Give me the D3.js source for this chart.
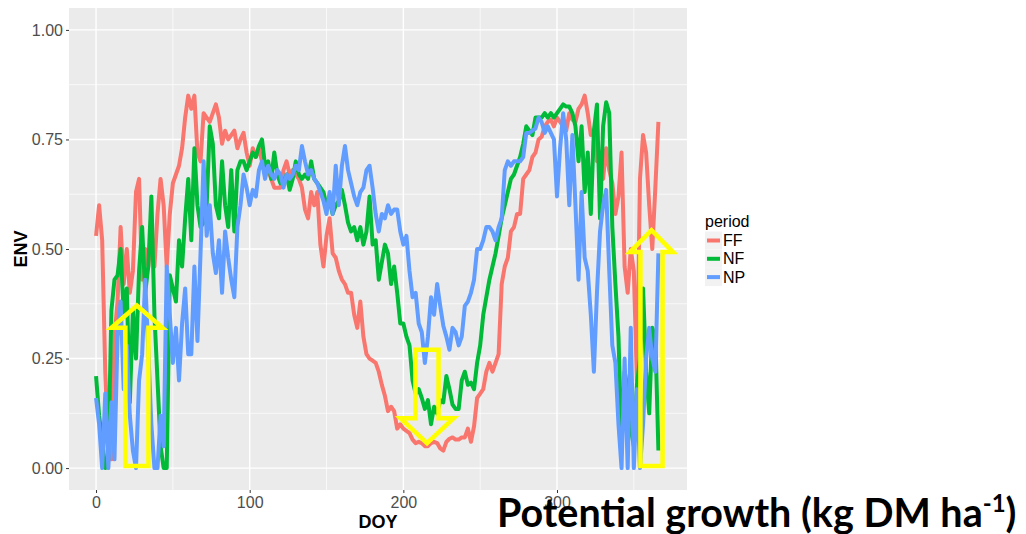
<!DOCTYPE html>
<html>
<head>
<meta charset="utf-8">
<script src="https://cdnjs.cloudflare.com/ajax/libs/d3/7.8.5/d3.min.js"></script>
<style>
    body{ margin:0; background:#fff; }
    svg{ display:block; font-family:'Liberation Sans', Arial, sans-serif; }
</style>
</head>
<body>
<svg id="chart" width="1026" height="534"></svg>
<script>
// day of year, every second day
var days = d3.range(0, 367, 2);

var ff = [
    0.53,0.60,0.52,0.22,0.05,0.02,0.30,0.38,0.55,0.42,
    0.50,0.40,0.45,0.63,0.66,0.43,0.50,0.46,0.53,0.46,
    0.58,0.66,0.60,0.46,0.58,0.65,0.67,0.69,0.73,0.80,
    0.85,0.82,0.85,0.72,0.70,0.81,0.80,0.79,0.81,0.83,
    0.80,0.74,0.77,0.75,0.76,0.77,0.73,0.75,0.765,0.72,
    0.69,0.73,0.71,0.73,0.70,0.67,0.68,0.66,0.64,0.64,
    0.64,0.68,0.70,0.67,0.68,0.67,0.66,0.64,0.59,0.57,
    0.63,0.60,0.63,0.51,0.46,0.53,0.57,0.49,0.48,0.45,
    0.43,0.42,0.40,0.40,0.35,0.32,0.38,0.30,0.26,0.25,
    0.245,0.24,0.22,0.19,0.165,0.13,0.14,0.13,0.09,0.10,
    0.09,0.085,0.08,0.065,0.057,0.06,0.057,0.05,0.05,0.057,
    0.06,0.057,0.045,0.04,0.06,0.067,0.07,0.065,0.065,0.07,
    0.07,0.09,0.06,0.095,0.16,0.17,0.18,0.22,0.24,0.22,
    0.24,0.26,0.42,0.46,0.48,0.54,0.55,0.58,0.58,0.66,
    0.67,0.68,0.71,0.72,0.75,0.756,0.78,0.79,0.795,0.78,
    0.80,0.79,0.78,0.77,0.81,0.795,0.79,0.82,0.83,0.85,
    0.81,0.76,0.77,0.70,0.72,0.66,0.73,0.68,0.65,0.58,
    0.62,0.72,0.46,0.40,0.50,0.45,0.20,0.66,0.76,0.72,
    0.60,0.50,0.64,0.79
];

var nf = [
    0.21,0.12,0.06,0.00,0.02,0.36,0.43,0.44,0.50,0.35,
    0.41,0.15,0.36,0.25,0.45,0.55,0.40,0.46,0.62,0.35,
    0.20,0.05,0.00,0.00,0.44,0.41,0.38,0.52,0.46,0.57,
    0.66,0.52,0.73,0.60,0.55,0.56,0.60,0.78,0.74,0.60,
    0.57,0.70,0.60,0.55,0.68,0.54,0.68,0.70,0.70,0.68,
    0.70,0.72,0.71,0.735,0.75,0.69,0.70,0.66,0.72,0.67,
    0.65,0.65,0.67,0.635,0.66,0.70,0.67,0.66,0.67,0.66,
    0.70,0.66,0.65,0.64,0.63,0.60,0.61,0.58,0.60,0.61,
    0.635,0.60,0.56,0.54,0.55,0.52,0.55,0.51,0.54,0.62,
    0.51,0.52,0.43,0.47,0.51,0.49,0.42,0.46,0.40,0.33,
    0.33,0.30,0.28,0.20,0.17,0.18,0.16,0.135,0.155,0.10,
    0.14,0.125,0.155,0.15,0.21,0.18,0.145,0.135,0.135,0.20,
    0.22,0.19,0.195,0.18,0.24,0.28,0.35,0.39,0.43,0.46,
    0.49,0.53,0.57,0.60,0.63,0.66,0.67,0.69,0.71,0.74,
    0.78,0.77,0.76,0.80,0.80,0.80,0.81,0.80,0.81,0.80,
    0.81,0.82,0.83,0.825,0.825,0.81,0.78,0.70,0.78,0.63,
    0.72,0.58,0.77,0.83,0.57,0.78,0.835,0.81,0.55,0.42,
    0.30,0.05,0.22,0.18,0.09,0.05,0.19,0.25,0.41,0.22,
    0.125,0.32,0.30,0.04
];

var np = [
    0.16,0.10,0.00,0.17,0.00,0.15,0.02,0.30,0.38,0.18,
    0.28,0.12,0.04,0.00,0.20,0.26,0.43,0.27,0.10,0.00,
    0.00,0.12,0.05,0.46,0.35,0.24,0.32,0.20,0.33,0.41,
    0.26,0.26,0.46,0.29,0.49,0.70,0.53,0.60,0.49,0.445,
    0.52,0.40,0.54,0.48,0.43,0.39,0.55,0.60,0.67,0.64,
    0.60,0.635,0.62,0.68,0.70,0.66,0.69,0.67,0.66,0.68,
    0.67,0.64,0.67,0.66,0.67,0.69,0.68,0.735,0.70,0.67,
    0.68,0.66,0.65,0.63,0.61,0.58,0.63,0.58,0.69,0.60,
    0.69,0.735,0.68,0.65,0.62,0.60,0.63,0.64,0.68,0.69,
    0.64,0.58,0.54,0.58,0.57,0.60,0.58,0.59,0.59,0.54,
    0.51,0.53,0.45,0.39,0.40,0.33,0.31,0.24,0.30,0.39,
    0.35,0.42,0.37,0.325,0.30,0.27,0.32,0.31,0.28,0.30,
    0.37,0.38,0.40,0.43,0.50,0.50,0.52,0.55,0.55,0.54,
    0.52,0.55,0.57,0.68,0.70,0.69,0.70,0.70,0.70,0.71,
    0.765,0.765,0.77,0.775,0.80,0.79,0.765,0.78,0.765,0.75,
    0.62,0.73,0.81,0.75,0.60,0.76,0.60,0.43,0.63,0.48,
    0.45,0.35,0.22,0.40,0.54,0.60,0.635,0.45,0.28,0.24,
    0.10,0.00,0.25,0.00,0.32,0.00,0.18,0.00,0.10,0.25,
    0.32,0.25,0.22,0.49
];

var periods = ["FF", "NF", "NP"];
var colors = ["#F8766D", "#00BA38", "#619CFF"];
var xTicks = [0, 100, 200, 300];
var yTicks = [0, 0.25, 0.5, 0.75, 1];
var yTickLabels = ["0.00", "0.25", "0.50", "0.75", "1.00"];

// yellow arrows, in data units (day, ENV)
var arrowDay = [26.6, 215.4, 361.5];
var arrowTail = [0.005, 0.27, 0.005];
var arrowHeadBase = [0.32, 0.114, 0.493];
var arrowTip = [0.371, 0.057, 0.543];
var arrowShaft = [7.5, 7.5, 7.2];
var arrowHead = [16.6, 17.3, 14];

drawChart();

function drawChart(){
    var svg = d3.select("#chart");
    var pL = 69, pR = 687, pT = 8, pB = 490;

    var x = d3.scaleLinear().domain([-17.6, 384.6]).range([pL, pR]);
    var y = d3.scaleLinear().domain([-0.05, 1.05]).range([pB, pT]);

    // panel
    svg.append("rect")
        .attr("x", pL).attr("y", pT)
        .attr("width", pR - pL).attr("height", pB - pT)
        .attr("fill", "#EBEBEB");

    var grid = svg.append("g");
    grid.selectAll(".minx").data([50, 150, 250, 350]).enter().append("line")
        .attr("x1", d => x(d)).attr("x2", d => x(d))
        .attr("y1", pT).attr("y2", pB)
        .attr("stroke", "#fff").attr("stroke-width", 0.7);
    grid.selectAll(".miny").data([0.125, 0.375, 0.625, 0.875]).enter().append("line")
        .attr("x1", pL).attr("x2", pR)
        .attr("y1", d => y(d)).attr("y2", d => y(d))
        .attr("stroke", "#fff").attr("stroke-width", 0.7);
    grid.selectAll(".majx").data(xTicks).enter().append("line")
        .attr("x1", d => x(d)).attr("x2", d => x(d))
        .attr("y1", pT).attr("y2", pB)
        .attr("stroke", "#fff").attr("stroke-width", 1.4);
    grid.selectAll(".majy").data(yTicks).enter().append("line")
        .attr("x1", pL).attr("x2", pR)
        .attr("y1", d => y(d)).attr("y2", d => y(d))
        .attr("stroke", "#fff").attr("stroke-width", 1.4);

    // axes
    var yAxis = d3.axisLeft(y).tickValues(yTicks)
        .tickFormat((d, i) => yTickLabels[i]).tickSize(3).tickPadding(3);
    var xAxis = d3.axisBottom(x).tickValues(xTicks).tickSize(3).tickPadding(4);

    svg.append("g").attr("transform", `translate(${pL},0)`).call(yAxis)
        .call(g => g.select(".domain").remove());
    svg.append("g").attr("transform", `translate(0,${pB})`).call(xAxis)
        .call(g => g.select(".domain").remove());

    svg.selectAll(".tick line").attr("stroke", "#333");
    svg.selectAll(".tick text")
        .attr("fill", "#4D4D4D")
        .style("font-size", "16px")
        .style("font-family", "'Liberation Sans', Arial, sans-serif");

    // series
    var series = [ff, nf, np];
    var line = d3.line()
        .x((d, i) => x(days[i]))
        .y(d => y(d));

    series.forEach(function(vals, k){
        svg.append("path")
            .attr("d", line(vals))
            .attr("fill", "none")
            .attr("stroke", colors[k])
            .attr("stroke-width", 4)
            .attr("stroke-linejoin", "round")
            .attr("stroke-linecap", "butt");
    });

    // yellow arrows
    var arrowLine = d3.line().x(d => x(d[0])).y(d => y(d[1]));
    arrowDay.forEach(function(cx, i){
        var pts = [
            [cx - arrowShaft[i], arrowTail[i]],
            [cx - arrowShaft[i], arrowHeadBase[i]],
            [cx - arrowHead[i], arrowHeadBase[i]],
            [cx, arrowTip[i]],
            [cx + arrowHead[i], arrowHeadBase[i]],
            [cx + arrowShaft[i], arrowHeadBase[i]],
            [cx + arrowShaft[i], arrowTail[i]]
        ];
        svg.append("path")
            .attr("d", arrowLine(pts) + "Z")
            .attr("fill", "none")
            .attr("stroke", "#FFFF00")
            .attr("stroke-width", 4.5)
            .attr("stroke-linejoin", "miter");
    });

    // axis titles
    svg.append("text")
        .attr("x", (pL + pR) / 2).attr("y", 528)
        .attr("text-anchor", "middle")
        .style("font-size", "18px").style("font-weight", "bold")
        .text("DOY");
    svg.append("text")
        .attr("transform", `translate(27,${(pT + pB) / 2}) rotate(-90)`)
        .attr("text-anchor", "middle")
        .style("font-size", "18px").style("font-weight", "bold")
        .text("ENV");

    // legend
    var legend = svg.append("g").attr("transform", "translate(705,0)");
    legend.append("text").attr("x", 0).attr("y", 227)
        .style("font-size", "16px").attr("fill", "#000").text("period");
    periods.forEach(function(p, i){
        var cy = 240.5 + i * 18.3;
        legend.append("rect")
            .attr("x", 0).attr("y", cy - 9)
            .attr("width", 17).attr("height", 18)
            .attr("fill", "#F2F2F2");
        legend.append("line")
            .attr("x1", 2).attr("x2", 15)
            .attr("y1", cy).attr("y2", cy)
            .attr("stroke", colors[i]).attr("stroke-width", 4);
        legend.append("text")
            .attr("x", 18).attr("y", cy + 5.5)
            .style("font-size", "16px").attr("fill", "#000")
            .text(p);
    });

    // slide caption
    var cap = svg.append("text")
        .attr("x", 497).attr("y", 527)
        .style("font-family", "Lato, 'Open Sans', sans-serif")
        .style("font-weight", "bold")
        .style("font-size", "39.5px")
        .attr("fill", "#000");
    cap.append("tspan").text("Potential growth (kg DM ha");
    cap.append("tspan").attr("dy", -15).style("font-size", "24px").text("-1");
    cap.append("tspan").attr("dy", 15).text(")");
}
</script>
</body>
</html>
